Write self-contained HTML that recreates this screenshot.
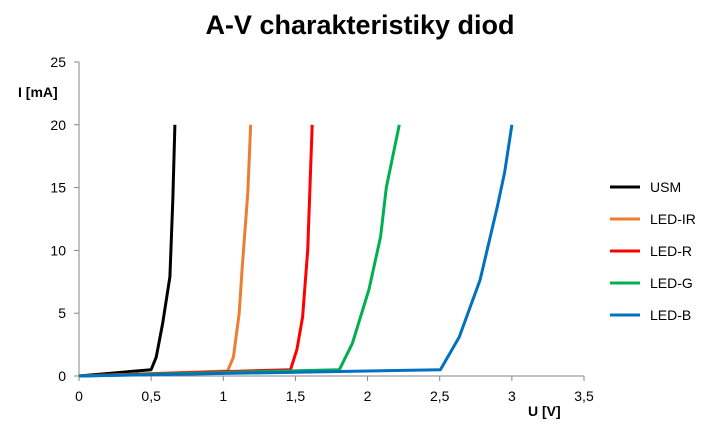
<!DOCTYPE html>
<html><head><meta charset="utf-8"><style>
body{margin:0;background:#fff;}
svg{display:block;font-family:"Liberation Sans",sans-serif;}
</style></head><body>
<svg id="chart" width="720" height="427">
<text x="360" y="34" text-anchor="middle" font-size="27" font-weight="bold" fill="#000">A-V charakteristiky diod</text>
<g id="axes"></g><g id="series"></g><g id="legend"></g>
</svg>
<script>
const xTicks=[0,0.5,1,1.5,2,2.5,3,3.5];
const xTickLabels=["0","0,5","1","1,5","2","2,5","3","3,5"];
const yTicks=[0,5,10,15,20,25];
const yTickLabels=["0","5","10","15","20","25"];
const seriesNames=["USM","LED-IR","LED-R","LED-G","LED-B"];
const seriesColors=["#000000","#ED7D31","#FF0000","#00B050","#0070C0"];
const usmU=[0,0.3,0.5,0.535,0.58,0.63,0.65,0.665];
const usmI=[0,0.3,0.5,1.5,4.2,7.9,14,20];
const irU=[0,1.03,1.07,1.11,1.13,1.17,1.19];
const irI=[0,0.4,1.5,5,8.4,14.6,20];
const rU=[0,1.466,1.51,1.55,1.585,1.616];
const rI=[0,0.5,2.1,4.7,10,20];
const gU=[0,1.805,1.895,2.01,2.09,2.13,2.22];
const gI=[0,0.5,2.6,6.9,11.1,15,20];
const bU=[0,2.505,2.635,2.78,2.9,2.95,3.0];
const bI=[0,0.5,3.1,7.65,13.5,16.2,20];
const seriesU=[usmU,irU,rU,gU,bU];
const seriesI=[usmI,irI,rI,gI,bI];

const X0=79,X1=584,Y0=376,Y1=62;
const xs=v=>X0+(v/3.5)*(X1-X0);
const ys=v=>Y0-(v/25)*(Y0-Y1);
const NS="http://www.w3.org/2000/svg";
function mk(parent,tag,attrs){const e=document.createElementNS(NS,tag);for(const k in attrs)e.setAttribute(k,attrs[k]);parent.appendChild(e);return e;}
const axes=document.getElementById('axes');
let e=mk(axes,'line',{x1:X0,y1:Y1,x2:X0,y2:Y0,stroke:'#868686','stroke-width':1});


e=mk(axes,'line',{x1:X0,y1:Y0,x2:X1,y2:Y0,stroke:'#868686','stroke-width':1});


xTicks.forEach((t,i)=>{
  mk(axes,'line',{x1:xs(t),y1:Y0,x2:xs(t),y2:Y0+5,stroke:'#868686'});
  const tx=mk(axes,'text',{x:xs(t),y:Y0+25,'text-anchor':'middle','font-size':14,fill:'#000'});
  tx.textContent=xTickLabels[i];
  
  
});
yTicks.forEach((t,i)=>{
  mk(axes,'line',{x1:X0-5,y1:ys(t),x2:X0,y2:ys(t),stroke:'#868686'});
  const tx=mk(axes,'text',{x:X0-13,y:ys(t)+5,'text-anchor':'end','font-size':14,fill:'#000'});
  tx.textContent=yTickLabels[i];
  
  
});
let t=mk(axes,'text',{x:18,y:97,'font-size':14,'font-weight':'bold',fill:'#000'});
t.textContent='I [mA]';


t=mk(axes,'text',{x:528,y:416,'font-size':14,'font-weight':'bold',fill:'#000'});
t.textContent='U [V]';



const sg=document.getElementById('series'),lg=document.getElementById('legend');
seriesNames.forEach((n,k)=>{
  const d=seriesU[k].map((u,i)=>(i?'L':'M')+xs(u).toFixed(1)+' '+ys(seriesI[k][i]).toFixed(1)).join(' ');
  const p=mk(sg,'path',{d:d,fill:'none',stroke:seriesColors[k],'stroke-width':3,'stroke-linejoin':'round'});
  
  
  const ly=187+k*32;
  const g=mk(lg,'g',{});
  
  
  mk(g,'line',{x1:610,y1:ly,x2:640,y2:ly,stroke:seriesColors[k],'stroke-width':3});
  const lt=mk(g,'text',{x:650,y:ly+5,'font-size':14,fill:'#000'});
  lt.textContent=n;
});
</script>
</body></html>
